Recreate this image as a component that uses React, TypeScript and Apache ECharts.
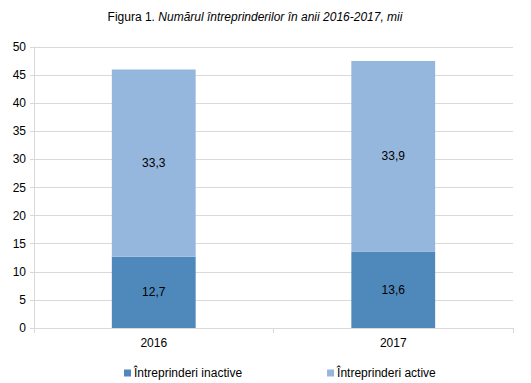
import React, { useEffect, useRef } from "react";
import * as echarts from "echarts";

const categories = ["2016", "2017"];
const inactive = [12.7, 13.6];
const active = [33.3, 33.9];
const seriesNames = ["Întreprinderi inactive", "Întreprinderi active"];

const fmt = (p: any) => String(p.value).replace(".", ",");

export default function App() {
  const ref = useRef<HTMLDivElement>(null);
  useEffect(() => {
    const chart = echarts.init(ref.current!, null, { renderer: "svg" });
    chart.setOption({
      animation: false,
      textStyle: { fontFamily: "Liberation Sans, Arial, sans-serif" },
      title: {
        text: "{a|Figura 1. }{b|Numărul întreprinderilor în anii 2016-2017, mii}",
        left: 250,
        textAlign: "center",
        top: 6,
        textStyle: {
          fontWeight: "normal",
          rich: {
            a: { fontSize: 12, color: "#000", fontWeight: "normal", fontFamily: "Liberation Sans, Arial" },
            b: { fontSize: 12, color: "#000", fontWeight: "normal", fontStyle: "italic", fontFamily: "Liberation Sans, Arial" },
          },
        },
      },
      legend: {
        left: 124,
        top: 367,
        padding: 0,
        itemWidth: 7,
        itemHeight: 7,
        itemGap: 85,
        icon: "rect",
        textStyle: { fontSize: 12, color: "#000", padding: [0, 0, 0, -2] },
        data: seriesNames,
      },
      grid: { left: 34, right: 18, top: 47, bottom: 55, containLabel: false },
      xAxis: {
        type: "category",
        data: categories,
        axisLine: { lineStyle: { color: "#d9d9d9" } },
        axisTick: { show: true, length: 5, lineStyle: { color: "#d9d9d9" } },
        axisLabel: { color: "#000", fontSize: 12, margin: 9 },
      },
      yAxis: {
        type: "value",
        min: 0,
        max: 50,
        interval: 5,
        axisLine: { show: true, lineStyle: { color: "#d9d9d9" } },
        axisTick: { show: true, length: 4, lineStyle: { color: "#d9d9d9" } },
        axisLabel: { color: "#000", fontSize: 12, margin: 8 },
        splitLine: { lineStyle: { color: "#d9d9d9" } },
      },
      series: [
        {
          name: seriesNames[0],
          type: "bar",
          stack: "a",
          data: inactive,
          barWidth: "35%",
          itemStyle: { color: "#4f88bb" },
          label: { show: true, position: "inside", color: "#000", fontSize: 12, formatter: fmt },
        },
        {
          name: seriesNames[1],
          type: "bar",
          stack: "a",
          data: active,
          barWidth: "35%",
          itemStyle: { color: "#95b7de" },
          label: { show: true, position: "inside", color: "#000", fontSize: 12, formatter: fmt },
        },
      ],
    });
    return () => chart.dispose();
  }, []);
  return <div ref={ref} style={{ width: 531, height: 383, position: "absolute", left: 0, top: 0 }} />;
}
